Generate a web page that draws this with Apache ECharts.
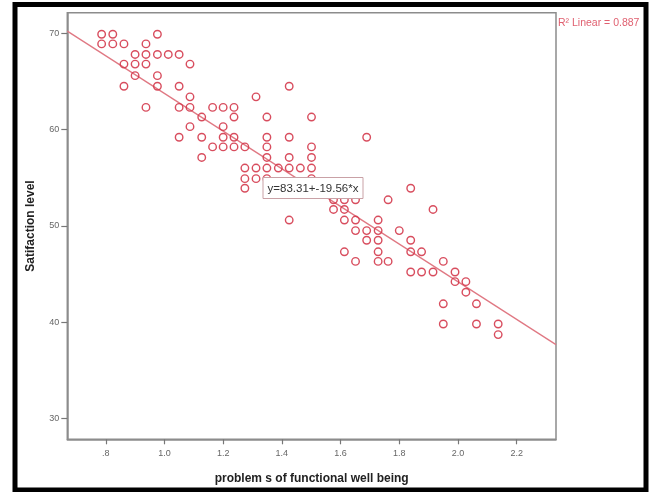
<!DOCTYPE html>
<html>
<head>
<meta charset="utf-8">
<script src="https://cdn.jsdelivr.net/npm/echarts@6/dist/echarts.min.js"></script>
<style>
html,body{margin:0;padding:0;background:#fff;}
#c{width:653px;height:492px;}
</style>
</head>
<body>
<div id="c"></div>
<script>
// ---- data ----
const xs = [
  0.786, 0.824, 0.976,
  0.786, 0.824, 0.862, 0.937,
  0.900, 0.937, 0.976, 1.013, 1.050,
  0.862, 0.900, 0.937, 1.087,
  0.900, 0.976,
  0.862, 0.976, 1.050, 1.425,
  1.087, 1.312,
  0.937, 1.050, 1.087, 1.164, 1.200, 1.237,
  1.127, 1.237, 1.349, 1.501,
  1.087, 1.200,
  1.050, 1.127, 1.200, 1.237, 1.349, 1.425, 1.689,
  1.164, 1.200, 1.237, 1.274, 1.349, 1.501,
  1.127, 1.349, 1.425, 1.501,
  1.274, 1.312, 1.349, 1.388, 1.425, 1.463, 1.501,
  1.274, 1.312, 1.349, 1.501,
  1.274, 1.839,
  1.576, 1.613, 1.651, 1.762,
  1.576, 1.613, 1.915,
  1.425, 1.613, 1.651, 1.728,
  1.651, 1.689, 1.728, 1.800,
  1.689, 1.728, 1.839,
  1.613, 1.728, 1.839, 1.876,
  1.651, 1.728, 1.762, 1.950,
  1.839, 1.876, 1.915, 1.990,
  1.990, 2.027,
  2.027,
  1.950, 2.063,
  1.950, 2.063, 2.137,
  2.137
];
const ys = [
  69.9, 69.9, 69.9,
  68.9, 68.9, 68.9, 68.9,
  67.8, 67.8, 67.8, 67.8, 67.8,
  66.8, 66.8, 66.8, 66.8,
  65.6, 65.6,
  64.5, 64.5, 64.5, 64.5,
  63.4, 63.4,
  62.3, 62.3, 62.3, 62.3, 62.3, 62.3,
  61.3, 61.3, 61.3, 61.3,
  60.3, 60.3,
  59.2, 59.2, 59.2, 59.2, 59.2, 59.2, 59.2,
  58.2, 58.2, 58.2, 58.2, 58.2, 58.2,
  57.1, 57.1, 57.1, 57.1,
  56.0, 56.0, 56.0, 56.0, 56.0, 56.0, 56.0,
  54.9, 54.9, 54.9, 54.9,
  53.9, 53.9,
  52.7, 52.7, 52.7, 52.7,
  51.7, 51.7, 51.7,
  50.6, 50.6, 50.6, 50.6,
  49.5, 49.5, 49.5, 49.5,
  48.5, 48.5, 48.5,
  47.3, 47.3, 47.3, 47.3,
  46.3, 46.3, 46.3, 46.3,
  45.2, 45.2, 45.2, 45.2,
  44.2, 44.2,
  43.1,
  41.9, 41.9,
  39.8, 39.8, 39.8,
  38.7
];
const xTicks = [0.8, 1.0, 1.2, 1.4, 1.6, 1.8, 2.0, 2.2];
const yTicks = [30, 40, 50, 60, 70];
const xRange = [0.669, 2.334];
const yRange = [27.82, 72.14];
const intercept = 83.31;
const slope = -19.56;
const rSquared = '0.887';
const xTitle = 'problem s of functional well being';
const yTitle = 'Satifaction level';
const eqText = 'y=83.31+-19.56*x';

// ---- build ----
const points = xs.map((x, i) => [x, ys[i]]);
const fitLine = [
  [xRange[0], intercept + slope * xRange[0]],
  [xRange[1], intercept + slope * xRange[1]]
];

const chart = echarts.init(document.getElementById('c'), null, {renderer: 'canvas'});
const axisGray = '#8c8c8c';
const labelStyle = {color: '#666', fontSize: 9, fontFamily: 'Liberation Sans'};

chart.setOption({
  animation: false,
  backgroundColor: '#fff',
  grid: {
    left: 67.3, top: 12.7, right: 97, bottom: 52.7,
    show: true, borderColor: axisGray, borderWidth: 1.5, backgroundColor: '#fff'
  },
  xAxis: {
    type: 'value', min: xRange[0], max: xRange[1],
    name: xTitle, nameLocation: 'middle', nameGap: 33,
    nameTextStyle: {fontWeight: 'bold', fontSize: 12, color: '#222', fontFamily: 'Liberation Sans'},
    axisLine: {show: true, onZero: false, lineStyle: {color: axisGray, width: 1.5}},
    axisTick: {show: true, inside: false, length: 5, customValues: xTicks, lineStyle: {color: '#777', width: 1.2}},
    axisLabel: Object.assign({}, labelStyle, {
      margin: 10, customValues: xTicks,
      formatter: v => (Math.abs(v - 0.8) < 1e-6 ? '.8' : v.toFixed(1))
    }),
    splitLine: {show: false}
  },
  yAxis: {
    type: 'value', min: yRange[0], max: yRange[1],
    name: yTitle, nameLocation: 'middle', nameGap: 31, nameRotate: 90,
    nameTextStyle: {fontWeight: 'bold', fontSize: 12, color: '#222', fontFamily: 'Liberation Sans'},
    axisLine: {show: true, onZero: false, lineStyle: {color: axisGray, width: 1.5}},
    axisTick: {show: true, inside: false, length: 6, customValues: yTicks, lineStyle: {color: '#777', width: 1.2}},
    axisLabel: Object.assign({}, labelStyle, {margin: 8, customValues: yTicks}),
    splitLine: {show: false}
  },
  series: [
    {
      type: 'line', data: fitLine, symbol: 'none', silent: true, z: 2,
      lineStyle: {color: '#e07883', width: 1.3}
    },
    {
      type: 'scatter', data: points, symbol: 'circle', symbolSize: 7.5, z: 3,
      itemStyle: {color: 'rgba(255,255,255,0)', borderColor: '#d43a4c', borderWidth: 1.4, opacity: 0.9}
    }
  ],
  graphic: [
    {
      type: 'rect', z: 100, silent: true,
      shape: {x: 15, y: 4.5, width: 631, height: 485.5},
      style: {fill: 'none', stroke: '#000', lineWidth: 5}
    },
    {
      type: 'rect', z: 50, silent: true,
      shape: {x: 263, y: 177.5, width: 100, height: 21},
      style: {fill: '#fff', stroke: '#c9a1a6', lineWidth: 1}
    },
    {
      type: 'text', z: 51, silent: true,
      style: {x: 313, y: 188.5, text: eqText, fill: '#333', fontSize: 11.5,
        fontFamily: 'Liberation Sans', align: 'center', verticalAlign: 'middle'}
    },
    {
      type: 'text', z: 51, silent: true,
      style: {x: 558, y: 23, text: 'R² Linear = ' + rSquared, fill: '#e06070', fontSize: 10.5,
        fontFamily: 'Liberation Sans', align: 'left', verticalAlign: 'middle'}
    }
  ]
});
</script>
</body>
</html>
